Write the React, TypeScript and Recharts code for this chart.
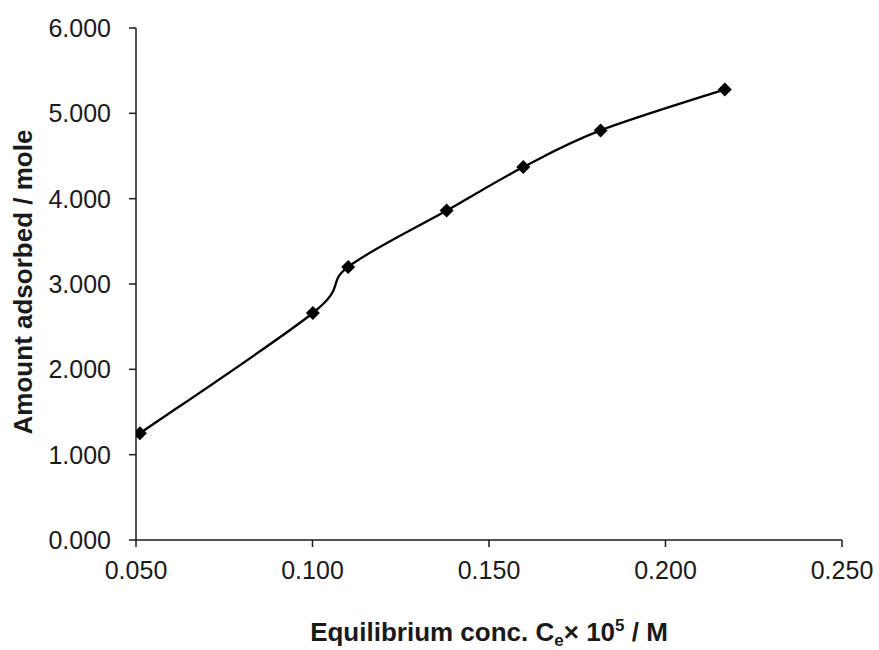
// Adsorption isotherm: amount adsorbed vs equilibrium concentration, smoothed line with diamond markers.
import { LineChart, Line, XAxis, YAxis, Label } from "recharts";

const concValues = [0.0511, 0.1001, 0.1101, 0.138, 0.1597, 0.1816, 0.2168];
const amountValues = [1.25, 2.66, 3.2, 3.86, 4.37, 4.8, 5.28];
const xTicks = [0.05, 0.1, 0.15, 0.2, 0.25];
const yTicks = [0, 1, 2, 3, 4, 5, 6];

const data = concValues.map((x, i) => ({ x, y: amountValues[i] }));

const INK = "#1a1a1a";
const FONT = '"Liberation Sans", Arial, sans-serif';

// spreadsheet-style smoothed line (uniform Catmull-Rom as cubic beziers)
function smoothCurve(context: any) {
  let pts: number[][] = [];
  return {
    areaStart() {},
    areaEnd() {},
    lineStart() {
      pts = [];
    },
    point(x: number, y: number) {
      pts.push([+x, +y]);
    },
    lineEnd() {
      if (!pts.length) return;
      context.moveTo(pts[0][0], pts[0][1]);
      for (let i = 0; i < pts.length - 1; i++) {
        const p0 = pts[Math.max(i - 1, 0)];
        const p1 = pts[i];
        const p2 = pts[i + 1];
        const p3 = pts[Math.min(i + 2, pts.length - 1)];
        context.bezierCurveTo(
          p1[0] + (p2[0] - p0[0]) / 6,
          p1[1] + (p2[1] - p0[1]) / 6,
          p2[0] - (p3[0] - p1[0]) / 6,
          p2[1] - (p3[1] - p1[1]) / 6,
          p2[0],
          p2[1]
        );
      }
    },
  };
}

function Diamond(props: any) {
  const { cx, cy } = props;
  if (cx == null || cy == null) return null;
  const r = 7;
  return (
    <polygon
      points={`${cx},${cy - r} ${cx + r},${cy} ${cx},${cy + r} ${cx - r},${cy}`}
      fill="#000"
    />
  );
}

function XTitle(props: any) {
  const { x, y, width } = props.viewBox;
  return (
    <text
      x={x + width / 2}
      y={y + 101}
      textAnchor="middle"
      fontFamily={FONT}
      fontWeight="bold"
      fontSize={26}
      fill={INK}
    >
      Equilibrium conc. C
      <tspan fontSize={17} dy={5}>e</tspan>
      <tspan fontSize={26} dy={-5}>× 10</tspan>
      <tspan fontSize={17} dy={-10}>5</tspan>
      <tspan fontSize={26} dy={10}> / M</tspan>
    </text>
  );
}

function YTitle(props: any) {
  const { y, height } = props.viewBox;
  const cy = y + height / 2 - 2;
  return (
    <text
      x={32}
      y={cy}
      transform={`rotate(-90 32 ${cy})`}
      textAnchor="middle"
      fontFamily={FONT}
      fontWeight="bold"
      fontSize={26}
      fill={INK}
    >
      Amount adsorbed / mole
    </text>
  );
}

export default function App() {
  return (
    <div style={{ position: "absolute", left: 0, top: 0, background: "#fff" }}>
      <LineChart
        width={879}
        height={650}
        data={data}
        margin={{ top: 28, right: 37, left: 0, bottom: 0 }}
      >
        <XAxis
          dataKey="x"
          type="number"
          domain={[0.05, 0.25]}
          ticks={xTicks}
          allowDataOverflow
          tickFormatter={(v: number) => v.toFixed(3)}
          height={110}
          tickSize={7}
          tickMargin={14}
          stroke={INK}
          strokeWidth={1.5}
          tick={{ fill: INK, fontSize: 25, fontFamily: FONT }}
        >
          <Label content={<XTitle />} />
        </XAxis>
        <YAxis
          dataKey="y"
          type="number"
          domain={[0, 6]}
          ticks={yTicks}
          tickFormatter={(v: number) => v.toFixed(3)}
          width={136}
          tickSize={7}
          tickMargin={18}
          stroke={INK}
          strokeWidth={1.5}
          tick={{ fill: INK, fontSize: 25, fontFamily: FONT }}
        >
          <Label content={<YTitle />} />
        </YAxis>
        <Line
          dataKey="y"
          type={smoothCurve as any}
          stroke="#000"
          strokeWidth={2.3}
          dot={(p: any) => <Diamond key={p.index} {...p} />}
          activeDot={false}
          isAnimationActive={false}
        />
      </LineChart>
    </div>
  );
}
